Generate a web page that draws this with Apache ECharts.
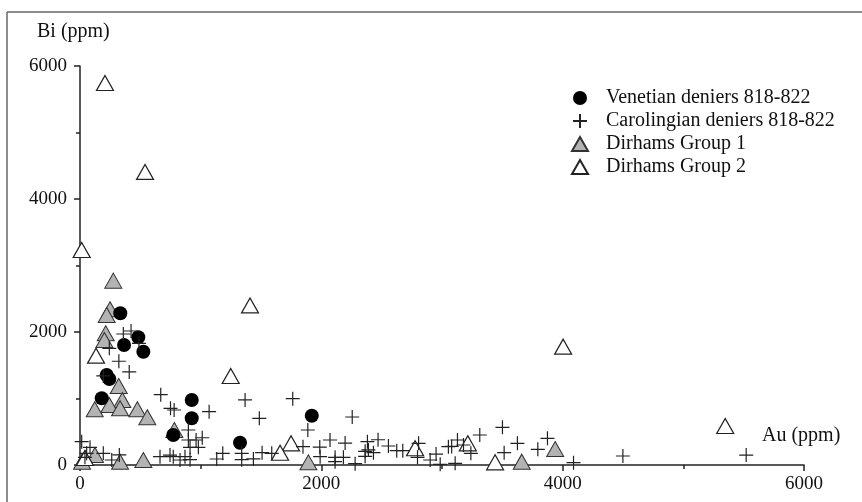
<!DOCTYPE html>
<html>
<head>
<meta charset="utf-8">
<script src="https://cdn.jsdelivr.net/npm/echarts@6/dist/echarts.min.js"></script>
<style>
  html, body { margin: 0; padding: 0; background: #fff; }
  #chart { width: 862px; height: 502px; }
</style>
</head>
<body>
<div id="chart"></div>
<script>
// [Au, Bi] in ppm
const venetian = [
  [334, 2282], [365, 1805], [483, 1921], [525, 1704], [221, 1354], [243, 1293],
  [180, 1003], [926, 978], [926, 702], [773, 451], [1326, 335], [1921, 741]
];

const carolingian = [
  [359, 1970], [423, 2015], [243, 1755], [322, 1560], [408, 1400], [193, 1339], [489, 1830],
  [669, 1058], [750, 853], [780, 827], [1070, 802], [1368, 978], [1486, 702], [1763, 998],
  [2256, 722], [1888, 526], [898, 526], [898, 376], [962, 376], [1013, 410], [981, 266],
  [912, 266], [912, 80], [14, 351], [83, 266], [55, 176], [193, 176], [41, 116], [263, 75],
  [326, 152], [663, 125], [746, 150], [773, 125], [829, 75], [870, 125], [1133, 90],
  [1183, 176], [1340, 176], [1340, 80], [1437, 92], [1509, 185], [1589, 176], [1848, 275],
  [1987, 270], [2072, 376], [2197, 330], [1990, 125], [2114, 115], [2183, 115], [2114, 50],
  [2280, 20], [2382, 351], [2470, 380], [2363, 205], [2390, 226], [2432, 185], [2363, 130],
  [2556, 286], [2625, 215], [2675, 215], [2806, 326], [2797, 116], [2902, 75], [2951, 165],
  [2985, 10], [3053, 275], [3080, 280], [3128, 376], [3178, 301], [3239, 176], [3313, 451],
  [3109, 25], [3501, 567], [3625, 326], [3515, 185], [3794, 236], [3874, 401], [4090, 35],
  [4499, 135], [5521, 150]
];

const dirhams1 = [
  [276, 2772], [249, 2342], [221, 2256], [213, 1981], [202, 1880], [321, 1188], [351, 978],
  [243, 902], [332, 853], [122, 838], [475, 838], [558, 717], [782, 526], [17, 50],
  [124, 150], [332, 50], [525, 75], [1893, 40], [3661, 50], [3938, 240]
];

const dirhams2 = [
  [207, 5745], [539, 4407], [14, 3234], [1409, 2400], [133, 1644], [1249, 1339], [1749, 326],
  [1658, 185], [4004, 1780], [5347, 587], [2777, 251], [3214, 326], [3440, 40], [41, 105]
];

const seriesNames = [
  'Venetian deniers 818-822',
  'Carolingian deniers 818-822',
  'Dirhams Group 1',
  'Dirhams Group 2'
];

const FONT = 'Liberation Serif';
const crossPath = 'path://M0,5L10,5M5,0L5,10';

const chart = echarts.init(document.getElementById('chart'));

const axisCommon = {
  min: 0,
  max: 6000,
  interval: 2000,
  axisLine: { show: true, lineStyle: { color: '#222', width: 1.5 } },
  axisTick: { show: true, inside: false, length: 6, lineStyle: { color: '#222', width: 1.5 } },
  minorTick: { show: true, splitNumber: 2, length: 4, lineStyle: { color: '#222', width: 1.5 } },
  splitLine: { show: false },
  axisLabel: { color: '#111', fontFamily: FONT, fontSize: 19, formatter: (v) => String(v) }
};

chart.setOption({
  animation: false,
  backgroundColor: '#fff',
  grid: { left: 80, top: 66, right: 58, bottom: 37, containLabel: false },
  xAxis: Object.assign({}, axisCommon, {
    type: 'value',
    axisLabel: Object.assign({}, axisCommon.axisLabel, { margin: 10 })
  }),
  yAxis: Object.assign({}, axisCommon, {
    type: 'value',
    axisLabel: Object.assign({}, axisCommon.axisLabel, { margin: 13 })
  }),
  legend: {
    orient: 'vertical',
    left: 566,
    top: 83,
    itemGap: 3,
    itemWidth: 16,
    itemHeight: 14,
    textStyle: { fontFamily: FONT, fontSize: 20, color: '#111', padding: [0, 0, 0, 13] },
    data: seriesNames
  },
  graphic: [
    { type: 'line', shape: { x1: 7, y1: 12, x2: 862, y2: 12 }, style: { stroke: '#666', lineWidth: 1.5 } },
    { type: 'line', shape: { x1: 7, y1: 12, x2: 7, y2: 502 }, style: { stroke: '#666', lineWidth: 1.5 } },
    { type: 'text', left: 37, top: 22, style: { text: 'Bi (ppm)', font: '20px "Liberation Serif"', fill: '#111' } },
    { type: 'text', left: 762, top: 426, style: { text: 'Au (ppm)', font: '20px "Liberation Serif"', fill: '#111' } }
  ],
  series: [
    {
      name: seriesNames[0],
      type: 'scatter',
      data: venetian,
      symbol: 'circle',
      symbolSize: 14,
      itemStyle: { color: '#000', opacity: 1 },
      z: 4
    },
    {
      name: seriesNames[1],
      type: 'scatter',
      data: carolingian,
      symbol: crossPath,
      symbolSize: 14,
      itemStyle: { color: 'transparent', borderColor: '#222', borderWidth: 1.2, opacity: 1 },
      z: 5
    },
    {
      name: seriesNames[2],
      type: 'scatter',
      data: dirhams1,
      symbol: 'triangle',
      symbolSize: [17, 15],
      itemStyle: { color: '#b3b3b3', borderColor: '#333', borderWidth: 1, opacity: 1 },
      z: 3
    },
    {
      name: seriesNames[3],
      type: 'scatter',
      data: dirhams2,
      symbol: 'triangle',
      symbolSize: [17, 15],
      itemStyle: { color: '#fff', borderColor: '#222', borderWidth: 1.2, opacity: 1 },
      z: 3
    }
  ]
});
</script>
</body>
</html>
